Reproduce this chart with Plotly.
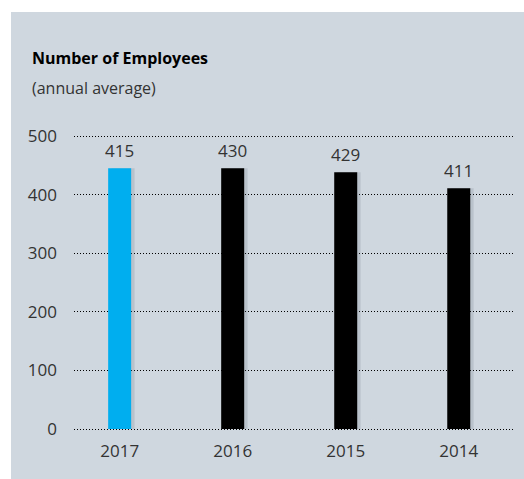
import plotly.graph_objects as go

years = ["2017", "2016", "2015", "2014"]
bar_heights = [445, 445, 438, 411]
value_labels = ["415", "430", "429", "411"]
bar_colors = ["#00AEEF", "#000000", "#000000", "#000000"]
y_ticks = [0, 100, 200, 300, 400, 500]

W, H = 524, 479
L, R, T, B = 74, 11, 133, 47
pw, ph = W - L - R, H - T - B

def px_to_paper_x(px):
    return (px - L) / pw

def px_to_paper_y(py):
    return (H - B - py) / ph

FONT = "Open Sans"
TXT = "#333333"

fig = go.Figure()
# subtle shadow
fig.add_trace(go.Bar(
    x=[0, 1, 2, 3], y=bar_heights, width=0.2035, offset=-0.1018 + 0.03,
    marker=dict(color="rgba(90,100,115,0.18)", line=dict(width=0)),
    hoverinfo="skip", showlegend=False,
))
fig.add_trace(go.Bar(
    x=[0, 1, 2, 3], y=bar_heights, width=0.2035,
    marker=dict(color=bar_colors, line=dict(width=0)),
    showlegend=False,
))

for i, (h, lab) in enumerate(zip(bar_heights, value_labels)):
    fig.add_annotation(x=i, y=h, text=lab, showarrow=False, yanchor="bottom",
                       yshift=4, font=dict(family=FONT, size=17, color=TXT))

# gray panel
fig.add_shape(type="rect", xref="paper", yref="paper", layer="below",
              x0=px_to_paper_x(11), x1=px_to_paper_x(530),
              y0=px_to_paper_y(485), y1=px_to_paper_y(12),
              fillcolor="#CFD7DF", line=dict(width=0))

fig.add_annotation(xref="paper", yref="paper", x=px_to_paper_x(30), y=px_to_paper_y(58),
                   xanchor="left", yanchor="middle", showarrow=False,
                   text="<b>Number of Employees</b>",
                   font=dict(family=FONT, size=16, color="#000000"))
fig.add_annotation(xref="paper", yref="paper", x=px_to_paper_x(30), y=px_to_paper_y(88),
                   xanchor="left", yanchor="middle", showarrow=False,
                   text="(annual average)",
                   font=dict(family=FONT, size=16, color=TXT))

fig.update_layout(
    width=W, height=H,
    margin=dict(l=L, r=R, t=T, b=B, pad=0),
    paper_bgcolor="white", plot_bgcolor="rgba(0,0,0,0)",
    barmode="overlay",
    xaxis=dict(range=[-0.404, 3.48], tickvals=[0, 1, 2, 3], ticktext=years,
               showgrid=False, zeroline=False, showline=False,
               ticks="outside", ticklen=4, tickcolor="rgba(0,0,0,0)",
               tickfont=dict(family=FONT, size=17, color=TXT), fixedrange=True),
    yaxis=dict(range=[-5.12, 505.12], tickvals=y_ticks,
               showgrid=True, gridcolor="#000000", gridwidth=1.3, griddash="1px,2px",
               zeroline=False, showline=False,
               ticks="", ticklabelstandoff=16,
               tickfont=dict(family=FONT, size=17, color=TXT), fixedrange=True),
)

fig.write_html("out.html")
